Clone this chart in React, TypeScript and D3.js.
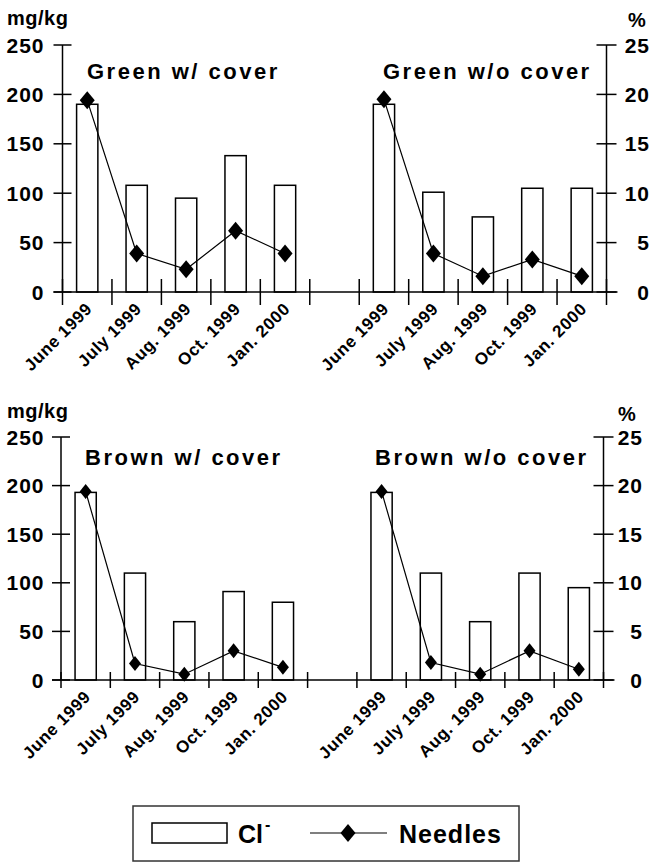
import React from 'react';
import * as d3 from 'd3';

const categories = ['June 1999', 'July 1999', 'Aug. 1999', 'Oct. 1999', 'Jan. 2000'];
const leftTicks = [0, 50, 100, 150, 200, 250];
const rightTicks = [0, 5, 10, 15, 20, 25];

const greenCoverCl = [190, 108, 95, 138, 108];
const greenCoverNeedles = [19.4, 3.9, 2.3, 6.2, 3.9];
const greenNoCoverCl = [190, 101, 76, 105, 105];
const greenNoCoverNeedles = [19.5, 3.9, 1.6, 3.3, 1.6];
const brownCoverCl = [193, 110, 60, 91, 80];
const brownCoverNeedles = [19.4, 1.7, 0.6, 3.0, 1.3];
const brownNoCoverCl = [193, 110, 60, 110, 95];
const brownNoCoverNeedles = [19.4, 1.8, 0.6, 3.0, 1.1];

const panelTitles = ['Green w/ cover', 'Green w/o cover', 'Brown w/ cover', 'Brown w/o cover'];
const leftUnit = 'mg/kg';
const rightUnit = '%';
const legendBar = 'Cl';
const legendLine = 'Needles';

const FONT = '"Liberation Sans", Arial, Helvetica, sans-serif';

const slots = [
  ...categories.map((_, i) => 'L' + i),
  'gap',
  ...categories.map((_, i) => 'R' + i),
];

type Row = {
  yBase: number; yTop: number; xL: number; xR: number;
  tickHalf: number; diaW: number; diaH: number;
  leftCl: number[]; leftN: number[]; rightCl: number[]; rightN: number[];
  titleL: string; titleR: string; titleLX: number; titleRX: number; titleY: number;
  unitY: number; pctX: number; pctY: number; rightLabelX: number;
};

const rows: Row[] = [
  {
    yBase: 292, yTop: 45, xL: 62.5, xR: 606.5, tickHalf: 13, diaW: 7.5, diaH: 9,
    leftCl: greenCoverCl, leftN: greenCoverNeedles, rightCl: greenNoCoverCl, rightN: greenNoCoverNeedles,
    titleL: panelTitles[0], titleR: panelTitles[1], titleLX: 87, titleRX: 383, titleY: 79,
    unitY: 25, pctX: 628, pctY: 27, rightLabelX: 650,
  },
  {
    yBase: 680, yTop: 437, xL: 61, xR: 603.5, tickHalf: 8, diaW: 6, diaH: 7.5,
    leftCl: brownCoverCl, leftN: brownCoverNeedles, rightCl: brownNoCoverCl, rightN: brownNoCoverNeedles,
    titleL: panelTitles[2], titleR: panelTitles[3], titleLX: 85, titleRX: 375, titleY: 465,
    unitY: 418, pctX: 618, pctY: 421, rightLabelX: 643,
  },
];

const diamond = (x: number, y: number, hw: number, hh: number) =>
  `M${x},${y - hh}L${x + hw},${y}L${x},${y + hh}L${x - hw},${y}Z`;

function RowChart({ r }: { r: Row }) {
  const x = d3.scaleBand<string>().domain(slots).range([r.xL, r.xR]).padding(0);
  const yL = d3.scaleLinear().domain([0, 250]).range([r.yBase, r.yTop]);
  const yR = d3.scaleLinear().domain([0, 25]).range([r.yBase, r.yTop]);
  const bw = x.bandwidth() * 0.43;
  const boundaries = slots.map((s) => x(s)!).concat([r.xR]);

  const sides = [
    { prefix: 'L', cl: r.leftCl, n: r.leftN },
    { prefix: 'R', cl: r.rightCl, n: r.rightN },
  ];

  const line = d3.line<[number, number]>().x((d) => d[0]).y((d) => d[1]);

  return (
    <g>
      {sides.map((s) =>
        s.cl.map((v, i) => {
          const cx = x(s.prefix + i)! + x.bandwidth() / 2;
          return (
            <rect key={s.prefix + 'b' + i} x={cx - bw / 2} y={yL(v)} width={bw} height={r.yBase - yL(v)}
              fill="#fff" stroke="#000" strokeWidth={1.5} />
          );
        })
      )}
      <line x1={r.xL} x2={r.xL} y1={r.yTop} y2={r.yBase} stroke="#000" strokeWidth={1.5} />
      <line x1={r.xR} x2={r.xR} y1={r.yTop} y2={r.yBase} stroke="#000" strokeWidth={1.5} />
      <line x1={r.xL - 9} x2={r.xR + 11} y1={r.yBase} y2={r.yBase} stroke="#000" strokeWidth={1.5} />
      {boundaries.map((b, i) => (
        <line key={'bt' + i} x1={b} x2={b} y1={r.yBase - r.tickHalf} y2={r.yBase + r.tickHalf} stroke="#000" strokeWidth={1.5} />
      ))}
      {leftTicks.map((t) => (
        <g key={'lt' + t}>
          <line x1={r.xL - 9} x2={r.xL + 9} y1={yL(t)} y2={yL(t)} stroke="#000" strokeWidth={1.5} />
          <text x={44.5} y={yL(t) + 7.5} textAnchor="end" fontFamily={FONT} fontWeight="bold" fontSize={21} letterSpacing={1}>{t}</text>
        </g>
      ))}
      {rightTicks.map((t) => (
        <g key={'rt' + t}>
          <line x1={r.xR - 10} x2={r.xR + 10} y1={yR(t)} y2={yR(t)} stroke="#000" strokeWidth={1.5} />
          <text x={r.rightLabelX} y={yR(t) + 7.5} textAnchor="end" fontFamily={FONT} fontWeight="bold" fontSize={21} letterSpacing={1}>{t}</text>
        </g>
      ))}
      <text x={7} y={r.unitY} fontFamily={FONT} fontWeight="bold" fontSize={20} letterSpacing={0.5}>{leftUnit}</text>
      <text x={r.pctX} y={r.pctY} fontFamily={FONT} fontWeight="bold" fontSize={20}>{rightUnit}</text>
      {sides.map((s) =>
        categories.map((c, i) => {
          const cx = x(s.prefix + i)! + x.bandwidth() / 2 + 6;
          const cy = r.yBase + 18;
          return (
            <text key={s.prefix + 'c' + i} transform={`translate(${cx},${cy}) rotate(-45)`} textAnchor="end"
              fontFamily={FONT} fontWeight="bold" fontSize={17} letterSpacing={0.6}>{c}</text>
          );
        })
      )}
      {sides.map((s) => {
        const pts: [number, number][] = s.n.map((v, i) => [x(s.prefix + i)! + x.bandwidth() / 2, yR(v)]);
        return (
          <g key={s.prefix + 'n'}>
            <path d={line(pts)!} fill="none" stroke="#000" strokeWidth={1.2} />
            {pts.map((p, i) => (
              <path key={i} d={diamond(p[0], p[1], r.diaW, r.diaH)} fill="#000" />
            ))}
          </g>
        );
      })}
      <text x={r.titleLX} y={r.titleY} fontFamily={FONT} fontWeight="bold" fontSize={22} letterSpacing={2.5}>{r.titleL}</text>
      <text x={r.titleRX} y={r.titleY} fontFamily={FONT} fontWeight="bold" fontSize={22} letterSpacing={2.5}>{r.titleR}</text>
    </g>
  );
}

export default function App() {
  return (
    <svg width={654} height={864} style={{ position: 'absolute', left: 0, top: 0, background: '#fff' }}>
      <rect x={0} y={0} width={654} height={864} fill="#fff" />
      {rows.map((r, i) => (
        <RowChart key={i} r={r} />
      ))}
      <rect x={133} y={806} width={386} height={55} fill="#fff" stroke="#333" strokeWidth={1.5} />
      <rect x={152} y={823} width={75} height={20} fill="#fff" stroke="#000" strokeWidth={1.5} />
      <text x={238} y={843} fontFamily={FONT} fontWeight="bold" fontSize={25}>
        {legendBar}
        <tspan dx={2} dy={-13} fontSize={16}>-</tspan>
      </text>
      <line x1={310} x2={387} y1={833} y2={833} stroke="#000" strokeWidth={1.2} />
      <path d={diamond(348, 833, 7.5, 9)} fill="#000" />
      <text x={399} y={843} fontFamily={FONT} fontWeight="bold" fontSize={25} letterSpacing={1}>{legendLine}</text>
    </svg>
  );
}
